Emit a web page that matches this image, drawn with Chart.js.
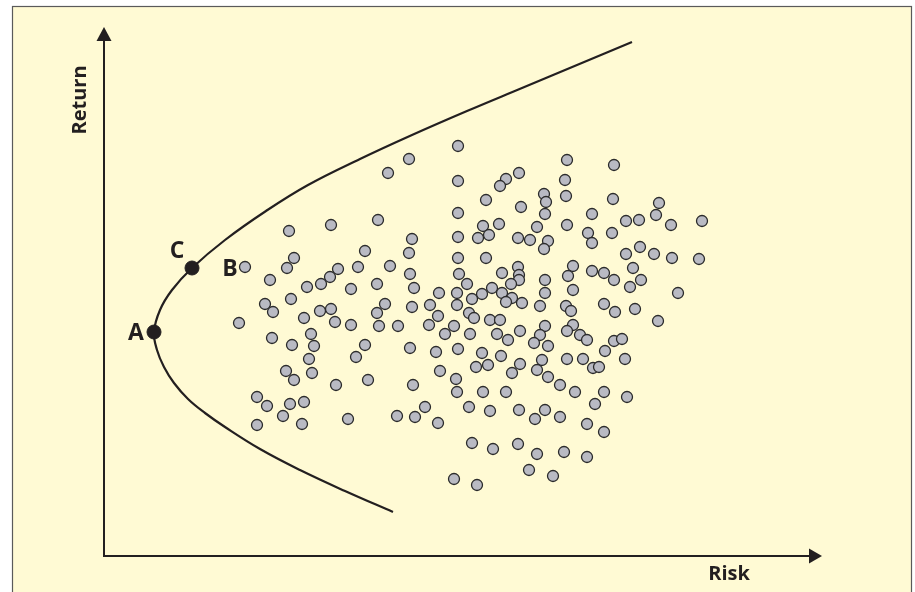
<!DOCTYPE html>
<html>
<head>
<meta charset="utf-8">
<script src="https://cdn.jsdelivr.net/npm/chart.js@4/dist/chart.umd.min.js"></script>
<style>
  html, body { margin: 0; padding: 0; background: #fff; }
  #wrap { width: 915px; height: 592px; position: relative; }
</style>
</head>
<body>
<div id="wrap"><canvas id="riskChart"></canvas></div>
<script>
// risk = distance right of the vertical axis, return = height above the horizontal axis
const frontierRisk   = [528, 473, 418, 363, 308, 256, 204, 162, 121, 88, 68, 56, 50, 53, 60, 70, 84, 101, 121, 156, 196, 241, 289];
const frontierReturn = [514, 491, 468, 445, 421, 397, 371, 345, 316, 288, 266, 246, 224, 206, 189, 173, 157, 143, 129, 107, 86, 65, 44];

const keyLabels = ["A", "C"];
const keyRisk   = [50, 88];
const keyReturn = [224, 288];

const portfolioRisk = [
  284, 185, 227, 274, 190, 261,
  354, 305, 354, 402, 396, 415, 440, 442, 382, 417, 354, 441, 379, 395, 433, 385, 374, 354, 308, 305, 414, 426, 444, 440, 354, 382,
  463, 510, 461, 462, 509, 555, 552, 488, 463, 522, 535, 567, 598, 484, 508, 488, 522, 536, 550, 568, 595,
  141, 183, 166, 234, 226, 217, 203, 254, 247, 273, 286, 187, 161, 169, 135, 200, 216, 227, 231, 247, 273, 281, 275, 207, 168, 210, 188, 261, 252, 205, 182, 208, 190, 264,
  306, 355, 363, 398, 414, 415, 415, 407, 441, 310, 335, 353, 378, 388, 398, 408, 402, 418, 368, 441, 308, 326, 353, 365, 370, 334, 386, 396, 436,
  294, 325, 350, 341, 366, 393, 404, 416, 441, 436, 430, 444, 306, 332, 354, 378, 397, 416, 438, 433, 384, 372, 408, 336, 352, 444,
  469, 488, 500, 510, 529, 537, 526, 464, 469, 574, 462, 467, 500, 511, 531, 554, 469, 463, 476, 483, 510, 518, 501, 521, 463, 479, 489, 495,
  232, 153, 163, 186, 200, 179, 153, 198, 244,
  309, 353, 379, 402, 441, 321, 293, 311, 334, 365, 386, 415, 431, 368, 389, 414, 433, 425, 350, 373,
  456, 471, 500, 491, 523, 456, 483, 500, 460, 483, 449
];
const portfolioReturn = [
  383, 325, 331, 336, 298, 305,
  410, 397, 375, 377, 370, 383, 362, 354, 356, 349, 343, 342, 330, 332, 329, 321, 318, 319, 317, 303, 318, 316, 315, 307, 298, 298,
  396, 391, 376, 360, 357, 353, 341, 342, 331, 335, 336, 331, 335, 323, 323, 313, 302, 309, 302, 298, 297,
  289, 288, 276, 287, 279, 272, 269, 289, 267, 272, 290, 257, 252, 244, 233, 238, 245, 247, 234, 231, 243, 252, 230, 222, 218, 210, 211, 211, 199, 197, 185, 183, 176, 176,
  282, 282, 272, 283, 289, 281, 276, 272, 276, 268, 263, 263, 262, 268, 263, 258, 254, 253, 257, 263, 249, 251, 251, 243, 238, 240, 236, 236, 250,
  230, 231, 230, 222, 222, 222, 216, 225, 230, 221, 213, 210, 208, 204, 207, 203, 200, 192, 196, 186, 191, 189, 183, 185, 177, 179,
  290, 285, 283, 276, 288, 276, 269, 280, 266, 263, 250, 245, 252, 244, 247, 235, 231, 225, 221, 216, 215, 217, 205, 197, 197, 197, 188, 189,
  171, 159, 150, 152, 154, 140, 131, 132, 137,
  171, 164, 164, 164, 146, 149, 140, 139, 133, 149, 145, 146, 137, 113, 107, 112, 102, 86, 77, 71,
  171, 164, 164, 152, 159, 139, 132, 124, 104, 99, 80
];
const pointB = 53; // index of the portfolio marked "B"

const axisRiskEnd = 718;
const axisReturnEnd = 529;

const ink = "#231f20";
const labelFont = 'bold 20px "Open Sans", sans-serif';

const diagramDecor = {
  id: "diagramDecor",
  beforeDraw(chart) {
    const ctx = chart.ctx;
    ctx.save();
    ctx.fillStyle = "#ffffff";
    ctx.fillRect(0, 0, chart.width, chart.height);
    ctx.fillStyle = "#fffad4";
    ctx.fillRect(12, 6, 900, chart.height);
    ctx.strokeStyle = "#5a5a5a";
    ctx.lineWidth = 1.2;
    ctx.strokeRect(12.5, 6.5, 899, chart.height + 10);
    ctx.restore();
  },
  beforeDatasetsDraw(chart) {
    const ctx = chart.ctx;
    const xs = chart.scales.x, ys = chart.scales.y;
    const ox = xs.getPixelForValue(0), oy = ys.getPixelForValue(0);
    const xEnd = xs.getPixelForValue(axisRiskEnd);
    const yEnd = ys.getPixelForValue(axisReturnEnd);
    ctx.save();
    ctx.strokeStyle = ink;
    ctx.fillStyle = ink;
    ctx.lineWidth = 2;
    ctx.beginPath();
    ctx.moveTo(ox, oy + 1);
    ctx.lineTo(ox, yEnd + 10);
    ctx.moveTo(ox - 1, oy);
    ctx.lineTo(xEnd - 10, oy);
    ctx.stroke();
    // arrow heads
    ctx.beginPath();
    ctx.moveTo(ox, yEnd);
    ctx.lineTo(ox - 7.5, yEnd + 14);
    ctx.lineTo(ox + 7.5, yEnd + 14);
    ctx.closePath();
    ctx.fill();
    ctx.beginPath();
    ctx.moveTo(xEnd, oy);
    ctx.lineTo(xEnd - 13, oy - 7.5);
    ctx.lineTo(xEnd - 13, oy + 7.5);
    ctx.closePath();
    ctx.fill();

    ctx.font = labelFont;
    ctx.textAlign = "center";
    ctx.textBaseline = "middle";
    ctx.fillText("Risk", 729, 574);
    ctx.save();
    ctx.translate(80, 100);
    ctx.rotate(-Math.PI / 2);
    ctx.fillText("Return", 0, 0);
    ctx.restore();
    ctx.restore();
  },
  afterDatasetsDraw(chart) {
    const ctx = chart.ctx;
    const xs = chart.scales.x, ys = chart.scales.y;
    ctx.save();
    ctx.fillStyle = ink;
    ctx.font = 'bold 23px "Open Sans", sans-serif';
    ctx.textAlign = "center";
    ctx.textBaseline = "middle";
    ctx.fillText(keyLabels[0], xs.getPixelForValue(keyRisk[0]) - 18, ys.getPixelForValue(keyReturn[0]) + 1);
    ctx.fillText(keyLabels[1], xs.getPixelForValue(keyRisk[1]) - 15, ys.getPixelForValue(keyReturn[1]) - 17);
    ctx.fillText("B", xs.getPixelForValue(portfolioRisk[pointB]) - 15, ys.getPixelForValue(portfolioReturn[pointB]) + 2);
    ctx.restore();
  }
};

const portfolios = portfolioRisk.map((r, i) => ({ x: r, y: portfolioReturn[i] }));
const frontier = frontierRisk.map((r, i) => ({ x: r, y: frontierReturn[i] }));
const keyPoints = keyRisk.map((r, i) => ({ x: r, y: keyReturn[i] }));

new Chart(document.getElementById("riskChart"), {
  type: "scatter",
  data: {
    datasets: [{
      data: frontier,
      showLine: true,
      borderColor: ink,
      borderWidth: 2.2,
      pointRadius: 0,
      tension: 0.4,
      fill: false,
      order: 3
    }, {
      data: portfolios,
      pointRadius: 5.5,
      pointBackgroundColor: "#b9bac3",
      pointBorderColor: "#2b2b2b",
      pointBorderWidth: 1.3,
      order: 2
    }, {
      data: keyPoints,
      pointRadius: 7,
      pointBackgroundColor: ink,
      pointBorderColor: ink,
      pointBorderWidth: 1,
      order: 1
    }]
  },
  options: {
    responsive: true,
    maintainAspectRatio: false,
    animation: false,
    layout: { padding: 0, autoPadding: false },
    plugins: { legend: { display: false }, tooltip: { enabled: false } },
    scales: {
      x: { type: "linear", display: false, min: -104, max: 811 },
      y: { type: "linear", display: false, min: -36, max: 556 }
    }
  },
  plugins: [diagramDecor]
});
</script>
</body>
</html>
